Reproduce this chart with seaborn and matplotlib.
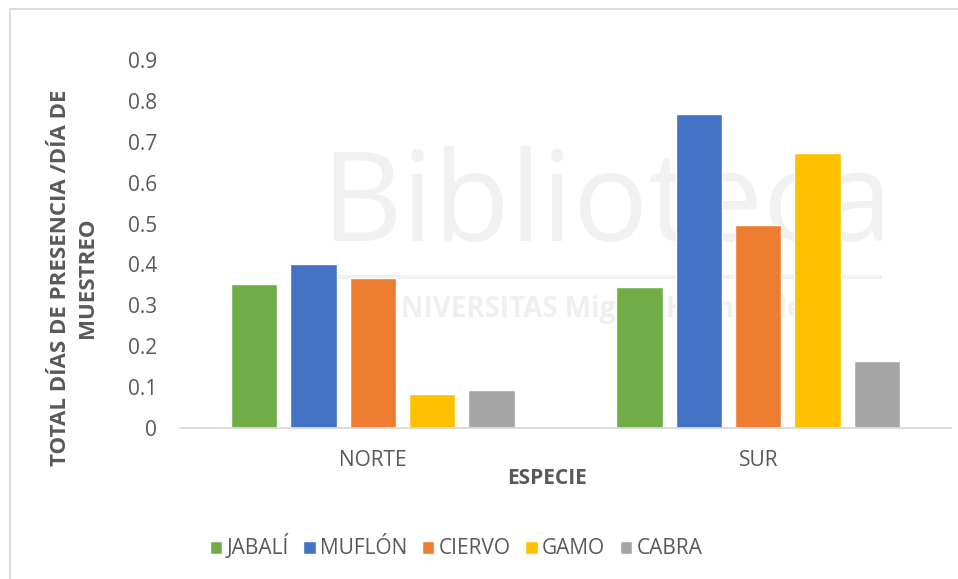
import matplotlib
matplotlib.use("Agg")
import matplotlib.pyplot as plt
import seaborn as sns
import pandas as pd
from matplotlib.lines import Line2D

regions = ["NORTE", "SUR"]
species = ["JABALÍ", "MUFLÓN", "CIERVO", "GAMO", "CABRA"]
norte_values = [0.352, 0.402, 0.367, 0.082, 0.092]
sur_values = [0.345, 0.769, 0.496, 0.672, 0.164]
colors = ["#70AD47", "#4472C4", "#ED7D31", "#FFC000", "#A5A5A5"]
yticks = [0, 0.1, 0.2, 0.3, 0.4, 0.5, 0.6, 0.7, 0.8, 0.9]
ytick_labels = ["0", "0.1", "0.2", "0.3", "0.4", "0.5", "0.6", "0.7", "0.8", "0.9"]

rows = []
for reg, vals in zip(regions, [norte_values, sur_values]):
    for sp, v in zip(species, vals):
        rows.append({"region": reg, "species": sp, "value": v})
df = pd.DataFrame(rows)

sns.set_theme(style="white")
plt.rcParams["font.family"] = ["Open Sans", "DejaVu Sans"]
TXT = "#595959"

W, H = 958, 579
fig = plt.figure(figsize=(W / 100, H / 100), dpi=100)
fig.patch.set_facecolor("white")
ax = fig.add_axes([180 / W, 1 - 428 / H, (951 - 180) / W, (428 - 60) / H])
ax.set_facecolor("none")

# faint watermark (behind the chart)
wm = "#F1F1F1"
fig.text(608 / W, 1 - 208 / H, "Biblioteca", fontsize=90, color=wm, ha="center",
         va="center", zorder=-5)
fig.add_artist(Line2D([333 / W, 880 / W], [1 - 277 / H, 1 - 277 / H], color=wm, lw=3, zorder=-5))
fig.text(598 / W, 1 - 310 / H, "UNIVERSITAS Miguel Hernández", fontsize=20, color="#EFEFEF",
         ha="center", va="center", zorder=-5, fontweight="bold")

sns.barplot(data=df, x="region", y="value", hue="species", palette=colors,
            hue_order=species, order=regions, width=0.77, gap=0.22,
            saturation=1, errorbar=None, ax=ax, zorder=2)

ax.set_ylim(0, 0.9)
ax.set_yticks(yticks)
ax.set_yticklabels(ytick_labels)
ax.tick_params(axis="y", length=0, pad=16.5, labelsize=15, labelcolor=TXT)
ax.tick_params(axis="x", length=0, pad=15.5, labelsize=15, labelcolor=TXT)
ax.set_xlim(-0.5, 1.5)
for s in ["top", "right", "left"]:
    ax.spines[s].set_visible(False)
ax.spines["bottom"].set_color("#D9D9D9")
ax.spines["bottom"].set_linewidth(1.3)
ax.grid(False)

ax.set_xlabel("ESPECIE", fontsize=15, fontweight="bold", color=TXT)
ax.xaxis.set_label_coords((547 - 180) / 771, -(479 - 428) / 368)
ax.xaxis.label.set_verticalalignment("center")

ax.set_ylabel("TOTAL DÍAS DE PRESENCIA /DÍA DE\nMUESTREO", fontsize=16,
              fontweight="bold", color=TXT, linespacing=1.37)
ax.yaxis.set_label_coords((74 - 180) / 771, (428 - 278) / 368)
ax.yaxis.label.set_verticalalignment("center")
ax.yaxis.label.set_horizontalalignment("center")

handles, labels = ax.get_legend_handles_labels()
if ax.legend_ is not None:
    ax.legend_.remove()
leg = fig.legend(handles, labels, loc="center", ncol=5,
                 bbox_to_anchor=(456 / W, 1 - 547 / H), frameon=False,
                 fontsize=15, handlelength=0.6, handleheight=0.6,
                 handletextpad=0.2, columnspacing=0.7, borderaxespad=0)
for t in leg.get_texts():
    t.set_color(TXT)

# chart border (top and left visible)
fig.add_artist(Line2D([10 / W, 1.0], [1 - 9 / H, 1 - 9 / H], color="#D9D9D9", lw=1.3))
fig.add_artist(Line2D([10 / W, 10 / W], [0, 1 - 9 / H], color="#D9D9D9", lw=1.3))

fig.savefig("out.png", dpi=100, facecolor="white")
